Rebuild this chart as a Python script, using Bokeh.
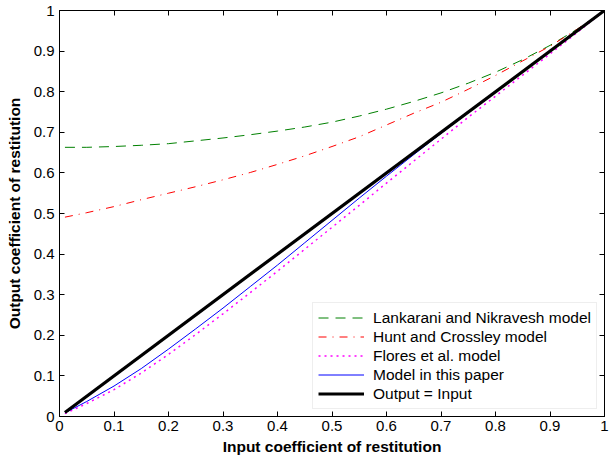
from bokeh.plotting import figure
from bokeh.models import Range1d, FixedTicker, LinearAxis, Legend, LegendItem, CustomJSTickFormatter
from bokeh.embed import file_html
from bokeh.resources import INLINE

# ---- data ----
e_in = [0.01, 0.05, 0.10, 0.15, 0.20, 0.25, 0.30, 0.35, 0.40, 0.45, 0.50,
        0.55, 0.60, 0.65, 0.70, 0.75, 0.80, 0.85, 0.90, 0.95, 1.00]
lankarani = [0.663, 0.663, 0.665, 0.668, 0.672, 0.679, 0.686, 0.694, 0.703, 0.713, 0.725,
             0.740, 0.757, 0.776, 0.797, 0.821, 0.848, 0.879, 0.914, 0.954, 1.000]
hunt = [0.491, 0.502, 0.517, 0.534, 0.550, 0.566, 0.583, 0.601, 0.621, 0.642, 0.665,
        0.689, 0.718, 0.747, 0.774, 0.806, 0.840, 0.876, 0.912, 0.954, 1.000]
flores = [0.007, 0.032, 0.066, 0.107, 0.153, 0.202, 0.253, 0.305, 0.358, 0.412, 0.466,
          0.520, 0.575, 0.629, 0.683, 0.737, 0.789, 0.841, 0.893, 0.946, 1.000]
model = [0.009, 0.037, 0.075, 0.118, 0.166, 0.216, 0.267, 0.320, 0.373, 0.428, 0.483,
         0.538, 0.592, 0.645, 0.697, 0.748, 0.798, 0.849, 0.899, 0.950, 1.000]
identity = [0.01, 1.00]
identity_x = [0.01, 1.00]

ticks = [0.0, 0.1, 0.2, 0.3, 0.4, 0.5, 0.6, 0.7, 0.8, 0.9, 1.0]
tick_labels = ["0", "0.1", "0.2", "0.3", "0.4", "0.5", "0.6", "0.7", "0.8", "0.9", "1"]

series_names = ["Lankarani and Nikravesh model", "Hunt and Crossley model",
                "Flores et al. model", "Model in this paper", "Output = Input"]

FONT = "Liberation Sans"

p = figure(width=612, height=461, output_backend="svg", toolbar_location=None,
           x_range=Range1d(0, 1), y_range=Range1d(0, 1),
           min_border_left=59, min_border_right=8, min_border_top=10, min_border_bottom=45)
p.background_fill_color = "white"
p.border_fill_color = "white"
p.outline_line_color = "black"
p.outline_line_width = 1
p.xgrid.visible = False
p.ygrid.visible = False

overrides = {t: l for t, l in zip(ticks, tick_labels)}
for ax in (p.xaxis[0], p.yaxis[0]):
    ax.ticker = FixedTicker(ticks=ticks)
    ax.major_label_overrides = overrides
    ax.major_tick_in = 5
    ax.major_tick_out = 0
    ax.minor_tick_line_color = None
    ax.axis_line_color = "black"
    ax.major_tick_line_color = "black"
    ax.major_label_text_font = FONT
    ax.major_label_text_font_size = "15px"
    ax.major_label_text_color = "black"
    ax.axis_label_text_font = FONT
    ax.axis_label_text_font_size = "15.5px"
    ax.axis_label_text_font_style = "bold"
    ax.axis_label_text_color = "black"

p.xaxis[0].axis_label = "Input coefficient of restitution"
p.yaxis[0].axis_label = "Output coefficient of restitution"
p.xaxis[0].major_label_standoff = 4
p.xaxis[0].axis_label_standoff = 4
p.yaxis[0].major_label_standoff = 5
p.yaxis[0].axis_label_standoff = 8

# top and right axes: inward ticks only
empty_fmt = CustomJSTickFormatter(code="return ''")
for side in ("above", "right"):
    ax = LinearAxis(ticker=FixedTicker(ticks=ticks), formatter=empty_fmt,
                    major_tick_in=5, major_tick_out=0, minor_tick_line_color=None,
                    major_label_text_font_size="1px", major_label_standoff=0,
                    axis_line_color="black", major_tick_line_color="black")
    p.add_layout(ax, side)

r1 = p.line(e_in, lankarani, line_color="#008000", line_width=1, line_dash="10 7")
r2 = p.line(e_in, hunt, line_color="#ff0000", line_width=1, line_dash="8 6 1 6")
r3 = p.line(e_in, flores, line_color="#ff00ff", line_width=1.5, line_dash="2 4")
r4 = p.line(e_in, model, line_color="#0000ff", line_width=1)
r5 = p.line(identity_x, identity, line_color="black", line_width=3.2)

legend = Legend(items=[LegendItem(label=n, renderers=[r]) for n, r in
                       zip(series_names, [r1, r2, r3, r4, r5])],
                location="bottom_right")
legend.label_text_font = FONT
legend.label_text_font_size = "15.5px"
legend.label_text_color = "black"
legend.glyph_width = 46
legend.glyph_height = 19
legend.label_height = 19
legend.spacing = 0
legend.padding = 5
legend.margin = 7
legend.label_standoff = 9
legend.border_line_color = "#dddddd"
legend.border_line_width = 1
legend.background_fill_color = "white"
legend.background_fill_alpha = 1
p.add_layout(legend)

open("out.html", "w").write(file_html(p, INLINE))
